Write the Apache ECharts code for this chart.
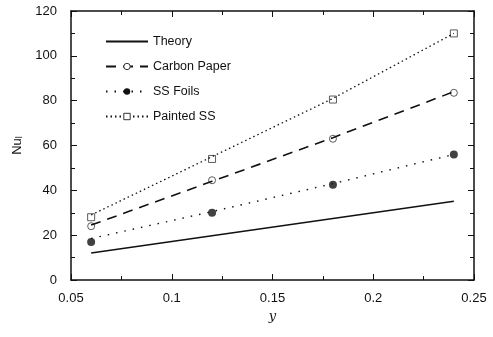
<!DOCTYPE html>
<html>
<head>
<meta charset="utf-8">
<script src="https://cdn.jsdelivr.net/npm/echarts@6/dist/echarts.min.js"></script>
<style>
  html, body { margin: 0; padding: 0; background: #fff; }
  #chart { width: 493px; height: 337px; }
</style>
</head>
<body>
<div id="chart"></div>
<script>
const yVals = [0.06, 0.12, 0.18, 0.24]

// fitted curves
const theory = [12, 19.7, 27.4, 35.1]
const carbonFit = [24.5, 44, 63.5, 84]
const ssFit = [18.5, 30.5, 43, 56]
const paintedFit = [29, 55, 81, 110]

// measured points
const carbonPts = [24, 44.5, 63, 83.5]
const ssPts = [17, 30, 42.5, 56]
const paintedPts = [28, 54, 80.5, 110]

const FONT = 'Liberation Sans'
const pair = (ys) => yVals.map((x, i) => [x, ys[i]])

const chart = echarts.init(document.getElementById('chart'))

const lineBase = { type: 'line', showSymbol: false, symbolSize: 7, animation: false, silent: true }
const ptBase = { type: 'scatter', symbolSize: 7, animation: false }
const openStyle = { color: '#fff', borderColor: '#333', borderWidth: 1 }

function frameAxis(extra) {
  return {
    type: 'value',
    axisLine: { onZero: false, lineStyle: { color: '#111', width: 1.5 } },
    axisTick: { inside: true, length: 6, lineStyle: { color: '#111' } },
    minorTick: { show: true, splitNumber: 2, length: 4, lineStyle: { color: '#111' } },
    splitLine: { show: false },
    ...extra,
  }
}

chart.setOption({
  backgroundColor: '#fff',
  textStyle: { fontFamily: FONT },
  grid: { left: 71, right: 19, top: 11, bottom: 57 },
  legend: {
    orient: 'vertical',
    left: 100,
    top: 30,
    itemWidth: 42,
    itemHeight: 8,
    itemGap: 12,
    textStyle: { fontFamily: FONT, fontSize: 12.5, color: '#111' },
    data: [
      { name: 'Theory', itemStyle: { color: 'transparent', borderWidth: 0 } },
      { name: 'Carbon Paper', itemStyle: openStyle },
      { name: 'SS Foils', itemStyle: { color: '#111' } },
      { name: 'Painted SS', itemStyle: openStyle },
    ],
  },
  xAxis: [
    frameAxis({
      min: 0.05, max: 0.25, interval: 0.05,
      name: 'y', nameLocation: 'middle', nameGap: 30,
      nameTextStyle: { fontFamily: 'DejaVu Serif', fontStyle: 'italic', fontSize: 13, color: '#111' },
      axisLabel: { color: '#111', fontSize: 13, margin: 12, formatter: (v) => String(+v.toFixed(2)) },
    }),
    frameAxis({ min: 0.05, max: 0.25, interval: 0.05, position: 'top', axisLabel: { show: false } }),
  ],
  yAxis: [
    frameAxis({
      min: 0, max: 120, interval: 20,
      name: '{n|Nu}{s|l}', nameLocation: 'middle', nameGap: 44, nameRotate: 90,
      nameTextStyle: { rich: { n: { fontSize: 13, color: '#111', fontFamily: FONT }, s: { fontSize: 9, color: '#111', fontFamily: FONT, verticalAlign: 'bottom' } } },
      axisLabel: { color: '#111', fontSize: 13, margin: 14 },
    }),
    frameAxis({ min: 0, max: 120, interval: 20, position: 'right', axisLabel: { show: false } }),
  ],
  series: [
    { ...lineBase, name: 'Theory', data: pair(theory), symbol: 'none',
      lineStyle: { color: '#111', width: 1.5 } },
    { ...lineBase, name: 'Carbon Paper', data: pair(carbonFit), symbol: 'circle',
      itemStyle: openStyle,
      lineStyle: { color: '#111', width: 1.6, type: [10, 7] } },
    { ...lineBase, name: 'SS Foils', data: pair(ssFit), symbol: 'circle',
      itemStyle: { color: '#111' },
      lineStyle: { color: '#111', width: 1.4, type: [1.5, 7] } },
    { ...lineBase, name: 'Painted SS', data: pair(paintedFit), symbol: 'rect',
      itemStyle: openStyle,
      lineStyle: { color: '#111', width: 1.3, type: [1.5, 3] } },
    { ...ptBase, name: 'Carbon Paper', data: pair(carbonPts), symbol: 'circle', itemStyle: openStyle },
    { ...ptBase, name: 'SS Foils', data: pair(ssPts), symbol: 'circle', symbolSize: 8,
      itemStyle: { color: '#111' } },
    { ...ptBase, name: 'Painted SS', data: pair(paintedPts), symbol: 'rect', itemStyle: openStyle },
  ],
})
</script>
</body>
</html>
